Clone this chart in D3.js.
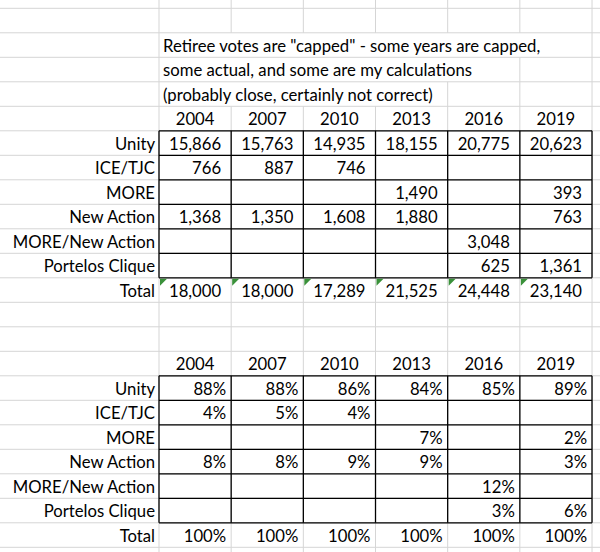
<!DOCTYPE html>
<html>
<head>
<meta charset="utf-8">
<script src="https://cdn.jsdelivr.net/npm/d3@7"></script>
<style>
  body { margin: 0; background: #fff; }
  svg text { font-family: Lato, "Open Sans", sans-serif; font-size: 16.7px; fill: #000; }
</style>
</head>
<body>
<svg id="sheet" width="600" height="552"></svg>
<script>
// sheet data
var noteLines = [
  'Retiree votes are "capped" - some years are capped,',
  'some actual, and some are my calculations',
  '(probably close, certainly not correct)'
];
var years = ["2004", "2007", "2010", "2013", "2016", "2019"];
var parties = ["Unity", "ICE/TJC", "MORE", "New Action", "MORE/New Action", "Portelos Clique"];

var unityVotes        = [15866, 15763, 14935, 18155, 20775, 20623];
var iceVotes          = [766, 887, 746, null, null, null];
var moreVotes         = [null, null, null, 1490, null, 393];
var newActionVotes    = [1368, 1350, 1608, 1880, null, 763];
var moreNewActionVotes = [null, null, null, null, 3048, null];
var portelosVotes     = [null, null, null, null, 625, 1361];
var totalVotes        = [18000, 18000, 17289, 21525, 24448, 23140];

var unityPct          = [88, 88, 86, 84, 85, 89];
var icePct            = [4, 5, 4, null, null, null];
var morePct           = [null, null, null, 7, null, 2];
var newActionPct      = [8, 8, 9, 9, null, 3];
var moreNewActionPct  = [null, null, null, null, 12, null];
var portelosPct       = [null, null, null, null, 3, 6];
var totalPct          = [100, 100, 100, 100, 100, 100];

var voteRows = [unityVotes, iceVotes, moreVotes, newActionVotes, moreNewActionVotes, portelosVotes];
var pctRows = [unityPct, icePct, morePct, newActionPct, moreNewActionPct, portelosPct];

// grid geometry: column index -> x, row index -> y (top edge)
var W = 600, H = 552;
var col = d3.scaleLinear().domain([0, 1]).range([159, 231.17]);
var row = d3.scaleLinear().domain([0, 1]).range([8.3, 32.8]);
var fmtVotes = d3.format(",");
var fmtPct = function(v) { return v + "%"; };

var svg = d3.select("#sheet");
var gGrid = svg.append("g");
var gBorder = svg.append("g");
var gText = svg.append("g");

// row layout
var NOTE = 1, HEAD1 = 4, BODY1 = 5, TOTAL1 = 11, HEAD2 = 14, BODY2 = 15;

function baseline(r) { return row(r + 1) - 5.5; }

// note text (overflows into the cells to its right)
var noteText = gText.selectAll("text.note").data(noteLines).enter()
  .append("text").attr("class", "note")
  .attr("x", col(0) + 4)
  .attr("y", function(d, i) { return baseline(NOTE + i); })
  .text(function(d) { return d; });

var noteEnds = [];
noteText.each(function(d, i) { noteEnds[i] = col(0) + 4 + this.getComputedTextLength(); });

// horizontal gridlines
gGrid.selectAll("line.h").data(d3.range(0, 24)).enter().append("line")
  .attr("x1", 0).attr("x2", W)
  .attr("y1", function(d) { return row(d); }).attr("y2", function(d) { return row(d); })
  .attr("stroke", "#d5d5d5").attr("stroke-width", 1);

// vertical gridlines, cut per row where the note overflows
var segs = [];
d3.range(-1, 24).forEach(function(r) {
  d3.range(0, 8).forEach(function(c) {
    var x = col(c);
    var k = r - NOTE;
    if (k >= 0 && k < noteLines.length && c > 0 && x < noteEnds[k] + 2) return;
    segs.push({ r: r, c: c });
  });
});
gGrid.selectAll("line.v").data(segs).enter().append("line")
  .attr("x1", function(d) { return col(d.c); }).attr("x2", function(d) { return col(d.c); })
  .attr("y1", function(d) { return row(d.r); }).attr("y2", function(d) { return row(d.r + 1); })
  .attr("stroke", "#d5d5d5").attr("stroke-width", 1);

// black cell borders around each body block
function drawBorders(top, n) {
  var g = gBorder.append("g");
  g.selectAll("line").data(d3.range(top, top + n + 1)).enter().append("line")
    .attr("x1", col(0)).attr("x2", col(6))
    .attr("y1", function(d) { return row(d); }).attr("y2", function(d) { return row(d); })
    .attr("stroke", "#000").attr("stroke-width", 1.3);
  g.append("g").selectAll("line").data(d3.range(0, 7)).enter().append("line")
    .attr("x1", function(d) { return col(d); }).attr("x2", function(d) { return col(d); })
    .attr("y1", row(top)).attr("y2", row(top + n))
    .attr("stroke", "#000").attr("stroke-width", 1.3);
}
drawBorders(BODY1, parties.length);
drawBorders(BODY2, parties.length);

// year headers
function drawHeader(r) {
  gText.append("g").selectAll("text").data(years).enter().append("text")
    .attr("x", function(d, i) { return (col(i) + col(i + 1)) / 2; })
    .attr("y", baseline(r))
    .attr("text-anchor", "middle")
    .text(function(d) { return d; });
}
drawHeader(HEAD1);
drawHeader(HEAD2);

// row labels
function drawLabels(top) {
  gText.append("g").selectAll("text").data(parties.concat(["Total"])).enter().append("text")
    .attr("x", col(0) - 4)
    .attr("y", function(d, i) { return baseline(top + i); })
    .attr("text-anchor", "end")
    .text(function(d) { return d; });
}
drawLabels(BODY1);
drawLabels(BODY2);

// values, right aligned; empty cells are skipped
function drawValues(rows, top, fmt, pad) {
  rows.forEach(function(vals, ri) {
    var cells = vals.map(function(v, i) { return { v: v, i: i }; })
      .filter(function(d) { return d.v != null; });
    gText.append("g").selectAll("text").data(cells).enter().append("text")
      .attr("x", function(d) { return col(d.i + 1) - pad; })
      .attr("y", baseline(top + ri))
      .attr("text-anchor", "end")
      .text(function(d) { return fmt(d.v); });
  });
}
drawValues(voteRows.concat([totalVotes]), BODY1, fmtVotes, 10);
drawValues(pctRows.concat([totalPct]), BODY2, fmtPct, 5);

// green error markers on the vote totals
gBorder.append("g").selectAll("path").data(totalVotes).enter().append("path")
  .attr("d", function(d, i) {
    var x = col(i) + 1, y = row(TOTAL1) + 1;
    return "M" + x + "," + y + "L" + (x + 7) + "," + y + "L" + x + "," + (y + 7) + "Z";
  })
  .attr("fill", "#3a913a");
</script>
</body>
</html>
